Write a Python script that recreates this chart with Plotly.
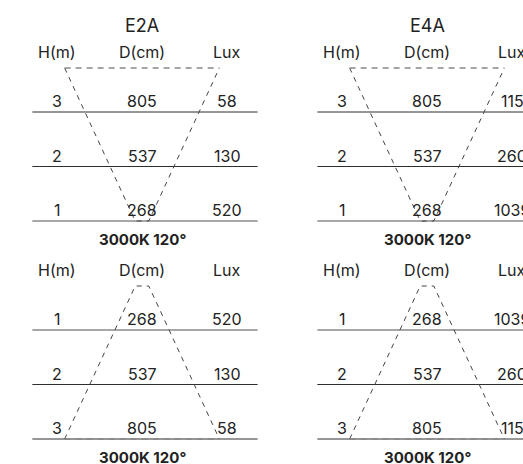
import plotly.graph_objects as go

# ---- data ----
panel_names = ["E2A", "E4A"]
heights = [1, 2, 3]                 # H (m)
distances = [268, 537, 805]         # D (cm)
lux_e2a = [520, 130, 58]
lux_e4a = [1039, 260, 115]
headers = ["H(m)", "D(cm)", "Lux"]
caption = "3000K 120°"

# ---- layout constants (pixels) ----
W, H = 523, 464
COL_PX = 85.0          # px per column unit
M_PX = 54.5            # px per metre row
FONT = "Inter, Lato, sans-serif"
INK = "#222222"

fig = go.Figure()

# panel setup: (axis suffix, column-origin px, x domain px, top/bottom)
panels = [
    ("", 57, (0, 260), "top", panel_names[0], lux_e2a),
    ("2", 342, (285, 523), "top", panel_names[1], lux_e4a),
    ("3", 57, (0, 260), "bottom", None, lux_e2a),
    ("4", 342, (285, 523), "bottom", None, lux_e4a),
]

cone_ext = 44 / M_PX       # wide end of the cone beyond the outer row
cone_wide = 0.91           # half widths in column units
cone_narrow = 0.08
line_x = [-0.29, 2.36]

for suf, origin, (dx0, dx1), pos, name, lux in panels:
    xa, ya = "x" + suf, "y" + suf
    xrange = [(dx0 - origin) / COL_PX, (dx1 - origin) / COL_PX]
    if pos == "top":
        ydom = [1 - 250 / H, 1]
        yrange = [1 + (221 - 250) / M_PX, 1 + 221 / M_PX]
        first_row = 3           # row nearest the headers
        last_row = 1
        wide_h, narrow_h = 3 + cone_ext, 1
    else:
        ydom = [0, 1 - 250 / H]
        yrange = [1 + (464 - 330) / M_PX, 1 + (250 - 330) / M_PX]
        first_row = 1
        last_row = 3
        wide_h, narrow_h = 3, 1 - cone_ext

    axis_kw = dict(visible=False, fixedrange=True)
    fig.layout["xaxis" + suf] = dict(domain=[dx0 / W, dx1 / W], range=xrange,
                                     anchor=ya, **axis_kw)
    fig.layout["yaxis" + suf] = dict(domain=ydom, range=yrange,
                                     anchor=xa, **axis_kw)

    # row lines
    for h in heights:
        gray = h == 1
        fig.add_trace(go.Scatter(
            x=line_x, y=[h, h], xaxis=xa, yaxis=ya, mode="lines",
            line=dict(color="#8a8a8a" if gray else "#2e2e2e",
                      width=1.6 if gray else 1),
            hoverinfo="skip", showlegend=False))

    # beam cone (dashed trapezoid)
    fig.add_trace(go.Scatter(
        x=[1 - cone_wide, 1 - cone_narrow, 1 + cone_narrow, 1 + cone_wide],
        y=[wide_h, narrow_h, narrow_h, wide_h],
        xaxis=xa, yaxis=ya, mode="lines",
        line=dict(color="#444444", width=1, dash="5px,5px"),
        hoverinfo="skip", showlegend=False))
    fig.add_trace(go.Scatter(
        x=[1 - cone_wide, 1 + cone_wide], y=[wide_h, wide_h],
        xaxis=xa, yaxis=ya, mode="lines",
        line=dict(color="#888888", width=1.5, dash="6px,5px"),
        hoverinfo="skip", showlegend=False))

    # table values
    for h, d, lx in zip(heights, distances, lux):
        for col, txt in enumerate([str(h), str(d), str(lx)]):
            fig.add_annotation(x=col, y=h, xref=xa, yref=ya, text=txt,
                               showarrow=False, yshift=11,
                               font=dict(family=FONT, size=16, color=INK))

    # column headers
    for col, txt in enumerate(headers):
        fig.add_annotation(x=col, y=first_row, xref=xa, yref=ya, text=txt,
                           showarrow=False, yshift=60,
                           font=dict(family=FONT, size=16, color=INK))

    if name:
        fig.add_annotation(x=1, y=first_row, xref=xa, yref=ya, text=name,
                           showarrow=False, yshift=87,
                           font=dict(family=FONT, size=18, color=INK))

    fig.add_annotation(x=1, y=last_row, xref=xa, yref=ya,
                       text="<b>" + caption + "</b>",
                       showarrow=False, yshift=-18,
                       font=dict(family=FONT, size=15, color=INK))

fig.update_layout(
    width=W, height=H,
    margin=dict(l=0, r=0, t=0, b=0),
    paper_bgcolor="white",
    plot_bgcolor="white",
    showlegend=False,
)

# drop the browser's default body margin so the figure sits at the corner
fig.write_html("out.html", config={"displayModeBar": False},
               post_script="document.body.style.margin='0';")
